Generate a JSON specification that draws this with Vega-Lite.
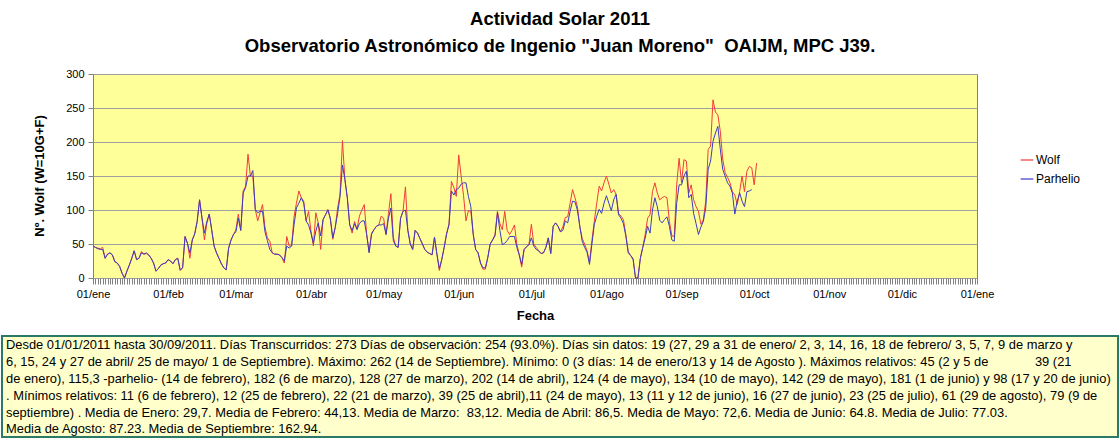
{
  "$schema": "https://vega.github.io/schema/vega-lite/v6.json",
  "background": "white",
  "padding": {"left": 1, "right": 2, "top": 9, "bottom": 1},
  "config": {
    "font": "Liberation Sans",
    "view": {"stroke": null},
    "concat": {"spacing": 12},
    "axis": {"labelFont": "Liberation Sans", "titleFont": "Liberation Sans", "labelColor": "#000000", "titleColor": "#000000"}
  },
  "title": {
    "text": "Actividad Solar 2011",
    "subtitle": "Observatorio Astronómico de Ingenio \"Juan Moreno\"\u00a0\u00a0OAIJM, MPC J39.",
    "anchor": "middle",
    "font": "Liberation Sans", "subtitleFont": "Liberation Sans",
    "fontSize": 18.5, "fontWeight": "bold", "color": "#000000",
    "subtitleFontSize": 18.5, "subtitleFontWeight": "bold", "subtitleColor": "#000000",
    "subtitlePadding": 9, "offset": 12
  },
  "vconcat": [
    {
      "spacing": 0,
      "hconcat": [
        {
          "width": 63,
          "height": 204,
          "data": {"values": [{"t": "Nº. Wolf (W=10G+F)"}]},
          "mark": {"type": "text", "angle": 270, "align": "center", "baseline": "top", "font": "Liberation Sans", "fontSize": 13, "fontWeight": "bold", "color": "#000000"},
          "encoding": {"text": {"field": "t"}}
        },
        {
          "width": 884,
          "height": 204,
          "view": {"fill": "#FFFF99", "stroke": "#808080", "strokeWidth": 1},
          "data": {"values": [
            {"fecha":"2011-01-01","Wolf":47,"Parhelio":47},{"fecha":"2011-01-02","Wolf":45,"Parhelio":45},{"fecha":"2011-01-03","Wolf":44,"Parhelio":43},{"fecha":"2011-01-04","Wolf":43,"Parhelio":42},{"fecha":"2011-01-05","Wolf":45,"Parhelio":42},{"fecha":"2011-01-06","Wolf":29,"Parhelio":29},{"fecha":"2011-01-07","Wolf":35,"Parhelio":35},{"fecha":"2011-01-08","Wolf":37,"Parhelio":37},{"fecha":"2011-01-09","Wolf":34,"Parhelio":34},{"fecha":"2011-01-10","Wolf":24,"Parhelio":24},{"fecha":"2011-01-11","Wolf":22,"Parhelio":22},{"fecha":"2011-01-12","Wolf":17,"Parhelio":17},{"fecha":"2011-01-13","Wolf":7,"Parhelio":7},{"fecha":"2011-01-14","Wolf":0,"Parhelio":0},{"fecha":"2011-01-15","Wolf":10,"Parhelio":10},{"fecha":"2011-01-16","Wolf":19,"Parhelio":19},{"fecha":"2011-01-17","Wolf":29,"Parhelio":29},{"fecha":"2011-01-18","Wolf":40,"Parhelio":40},{"fecha":"2011-01-19","Wolf":27,"Parhelio":27},{"fecha":"2011-01-20","Wolf":29,"Parhelio":29},{"fecha":"2011-01-21","Wolf":39,"Parhelio":37},{"fecha":"2011-01-22","Wolf":35,"Parhelio":35},{"fecha":"2011-01-23","Wolf":36,"Parhelio":37},{"fecha":"2011-01-24","Wolf":34,"Parhelio":34},{"fecha":"2011-01-25","Wolf":29,"Parhelio":29},{"fecha":"2011-01-26","Wolf":22,"Parhelio":22},{"fecha":"2011-01-27","Wolf":10,"Parhelio":10},{"fecha":"2011-01-28","Wolf":14,"Parhelio":14},{"fecha":"2011-01-29","Wolf":19,"Parhelio":19},{"fecha":"2011-01-30","Wolf":21,"Parhelio":21},{"fecha":"2011-01-31","Wolf":22,"Parhelio":22},
            {"fecha":"2011-02-01","Wolf":27,"Parhelio":27},{"fecha":"2011-02-02","Wolf":25,"Parhelio":25},{"fecha":"2011-02-03","Wolf":21,"Parhelio":21},{"fecha":"2011-02-04","Wolf":27,"Parhelio":27},{"fecha":"2011-02-05","Wolf":29,"Parhelio":29},{"fecha":"2011-02-06","Wolf":11,"Parhelio":12},{"fecha":"2011-02-07","Wolf":15,"Parhelio":15},{"fecha":"2011-02-08","Wolf":61,"Parhelio":61},{"fecha":"2011-02-09","Wolf":51,"Parhelio":51},{"fecha":"2011-02-10","Wolf":29,"Parhelio":37},{"fecha":"2011-02-11","Wolf":56,"Parhelio":56},{"fecha":"2011-02-12","Wolf":65,"Parhelio":65},{"fecha":"2011-02-13","Wolf":83,"Parhelio":83},{"fecha":"2011-02-14","Wolf":115,"Parhelio":115},{"fecha":"2011-02-15","Wolf":88,"Parhelio":88},{"fecha":"2011-02-16","Wolf":56,"Parhelio":66},{"fecha":"2011-02-17","Wolf":80,"Parhelio":83},{"fecha":"2011-02-18","Wolf":94,"Parhelio":94},{"fecha":"2011-02-19","Wolf":71,"Parhelio":71},{"fecha":"2011-02-20","Wolf":47,"Parhelio":47},{"fecha":"2011-02-21","Wolf":37,"Parhelio":37},{"fecha":"2011-02-22","Wolf":29,"Parhelio":29},{"fecha":"2011-02-23","Wolf":21,"Parhelio":21},{"fecha":"2011-02-24","Wolf":15,"Parhelio":15},{"fecha":"2011-02-25","Wolf":12,"Parhelio":12},{"fecha":"2011-02-26","Wolf":44,"Parhelio":44},{"fecha":"2011-02-27","Wolf":56,"Parhelio":56},{"fecha":"2011-02-28","Wolf":64,"Parhelio":64},
            {"fecha":"2011-03-01","Wolf":71,"Parhelio":68},{"fecha":"2011-03-02","Wolf":94,"Parhelio":88},{"fecha":"2011-03-03","Wolf":70,"Parhelio":70},{"fecha":"2011-03-04","Wolf":128,"Parhelio":125},{"fecha":"2011-03-05","Wolf":135,"Parhelio":133},{"fecha":"2011-03-06","Wolf":182,"Parhelio":150},{"fecha":"2011-03-07","Wolf":150,"Parhelio":150},{"fecha":"2011-03-08","Wolf":150,"Parhelio":158},{"fecha":"2011-03-09","Wolf":101,"Parhelio":101},{"fecha":"2011-03-10","Wolf":84,"Parhelio":96},{"fecha":"2011-03-11","Wolf":96,"Parhelio":98},{"fecha":"2011-03-12","Wolf":108,"Parhelio":98},{"fecha":"2011-03-13","Wolf":75,"Parhelio":68},{"fecha":"2011-03-14","Wolf":59,"Parhelio":55},{"fecha":"2011-03-15","Wolf":54,"Parhelio":42},{"fecha":"2011-03-16","Wolf":37,"Parhelio":37},{"fecha":"2011-03-17","Wolf":35,"Parhelio":35},{"fecha":"2011-03-18","Wolf":35,"Parhelio":35},{"fecha":"2011-03-19","Wolf":34,"Parhelio":34},{"fecha":"2011-03-20","Wolf":30,"Parhelio":30},{"fecha":"2011-03-21","Wolf":22,"Parhelio":25},{"fecha":"2011-03-22","Wolf":61,"Parhelio":47},{"fecha":"2011-03-23","Wolf":47,"Parhelio":44},{"fecha":"2011-03-24","Wolf":47,"Parhelio":47},{"fecha":"2011-03-25","Wolf":90,"Parhelio":78},{"fecha":"2011-03-26","Wolf":110,"Parhelio":103},{"fecha":"2011-03-27","Wolf":128,"Parhelio":110},{"fecha":"2011-03-28","Wolf":118,"Parhelio":118},{"fecha":"2011-03-29","Wolf":113,"Parhelio":110},{"fecha":"2011-03-30","Wolf":84,"Parhelio":84},{"fecha":"2011-03-31","Wolf":98,"Parhelio":78},
            {"fecha":"2011-04-01","Wolf":69,"Parhelio":66},{"fecha":"2011-04-02","Wolf":47,"Parhelio":51},{"fecha":"2011-04-03","Wolf":96,"Parhelio":69},{"fecha":"2011-04-04","Wolf":81,"Parhelio":81},{"fecha":"2011-04-05","Wolf":42,"Parhelio":62},{"fecha":"2011-04-06","Wolf":86,"Parhelio":86},{"fecha":"2011-04-07","Wolf":93,"Parhelio":93},{"fecha":"2011-04-08","Wolf":101,"Parhelio":100},{"fecha":"2011-04-09","Wolf":86,"Parhelio":88},{"fecha":"2011-04-10","Wolf":57,"Parhelio":59},{"fecha":"2011-04-11","Wolf":74,"Parhelio":74},{"fecha":"2011-04-12","Wolf":103,"Parhelio":95},{"fecha":"2011-04-13","Wolf":123,"Parhelio":120},{"fecha":"2011-04-14","Wolf":202,"Parhelio":166},{"fecha":"2011-04-15","Wolf":145,"Parhelio":145},{"fecha":"2011-04-16","Wolf":118,"Parhelio":118},{"fecha":"2011-04-17","Wolf":78,"Parhelio":78},{"fecha":"2011-04-18","Wolf":66,"Parhelio":70},{"fecha":"2011-04-19","Wolf":83,"Parhelio":80},{"fecha":"2011-04-20","Wolf":72,"Parhelio":71},{"fecha":"2011-04-21","Wolf":91,"Parhelio":80},{"fecha":"2011-04-22","Wolf":100,"Parhelio":84},{"fecha":"2011-04-23","Wolf":108,"Parhelio":84},{"fecha":"2011-04-24","Wolf":64,"Parhelio":64},{"fecha":"2011-04-25","Wolf":39,"Parhelio":37},{"fecha":"2011-04-26","Wolf":66,"Parhelio":64},{"fecha":"2011-04-27","Wolf":71,"Parhelio":71},{"fecha":"2011-04-28","Wolf":76,"Parhelio":76},{"fecha":"2011-04-29","Wolf":78,"Parhelio":78},{"fecha":"2011-04-30","Wolf":91,"Parhelio":78},
            {"fecha":"2011-05-01","Wolf":88,"Parhelio":80},{"fecha":"2011-05-02","Wolf":64,"Parhelio":64},{"fecha":"2011-05-03","Wolf":95,"Parhelio":88},{"fecha":"2011-05-04","Wolf":124,"Parhelio":103},{"fecha":"2011-05-05","Wolf":60,"Parhelio":55},{"fecha":"2011-05-06","Wolf":47,"Parhelio":47},{"fecha":"2011-05-07","Wolf":45,"Parhelio":45},{"fecha":"2011-05-08","Wolf":88,"Parhelio":88},{"fecha":"2011-05-09","Wolf":98,"Parhelio":98},{"fecha":"2011-05-10","Wolf":134,"Parhelio":100},{"fecha":"2011-05-11","Wolf":70,"Parhelio":70},{"fecha":"2011-05-12","Wolf":50,"Parhelio":50},{"fecha":"2011-05-13","Wolf":42,"Parhelio":42},{"fecha":"2011-05-14","Wolf":70,"Parhelio":70},{"fecha":"2011-05-15","Wolf":66,"Parhelio":66},{"fecha":"2011-05-16","Wolf":58,"Parhelio":58},{"fecha":"2011-05-17","Wolf":50,"Parhelio":50},{"fecha":"2011-05-18","Wolf":42,"Parhelio":42},{"fecha":"2011-05-19","Wolf":38,"Parhelio":38},{"fecha":"2011-05-20","Wolf":36,"Parhelio":36},{"fecha":"2011-05-21","Wolf":34,"Parhelio":34},{"fecha":"2011-05-22","Wolf":60,"Parhelio":60},{"fecha":"2011-05-23","Wolf":35,"Parhelio":35},{"fecha":"2011-05-24","Wolf":11,"Parhelio":14},{"fecha":"2011-05-25","Wolf":27,"Parhelio":27},{"fecha":"2011-05-26","Wolf":45,"Parhelio":45},{"fecha":"2011-05-27","Wolf":65,"Parhelio":65},{"fecha":"2011-05-28","Wolf":80,"Parhelio":78},{"fecha":"2011-05-29","Wolf":142,"Parhelio":128},{"fecha":"2011-05-30","Wolf":133,"Parhelio":122},{"fecha":"2011-05-31","Wolf":120,"Parhelio":130},
            {"fecha":"2011-06-01","Wolf":181,"Parhelio":132},{"fecha":"2011-06-02","Wolf":150,"Parhelio":138},{"fecha":"2011-06-03","Wolf":121,"Parhelio":140},{"fecha":"2011-06-04","Wolf":84,"Parhelio":140},{"fecha":"2011-06-05","Wolf":99,"Parhelio":120},{"fecha":"2011-06-06","Wolf":98,"Parhelio":105},{"fecha":"2011-06-07","Wolf":64,"Parhelio":64},{"fecha":"2011-06-08","Wolf":42,"Parhelio":42},{"fecha":"2011-06-09","Wolf":37,"Parhelio":37},{"fecha":"2011-06-10","Wolf":22,"Parhelio":22},{"fecha":"2011-06-11","Wolf":13,"Parhelio":15},{"fecha":"2011-06-12","Wolf":13,"Parhelio":15},{"fecha":"2011-06-13","Wolf":30,"Parhelio":30},{"fecha":"2011-06-14","Wolf":50,"Parhelio":50},{"fecha":"2011-06-15","Wolf":56,"Parhelio":56},{"fecha":"2011-06-16","Wolf":64,"Parhelio":62},{"fecha":"2011-06-17","Wolf":98,"Parhelio":96},{"fecha":"2011-06-18","Wolf":80,"Parhelio":70},{"fecha":"2011-06-19","Wolf":71,"Parhelio":49},{"fecha":"2011-06-20","Wolf":98,"Parhelio":51},{"fecha":"2011-06-21","Wolf":70,"Parhelio":55},{"fecha":"2011-06-22","Wolf":64,"Parhelio":61},{"fecha":"2011-06-23","Wolf":70,"Parhelio":61},{"fecha":"2011-06-24","Wolf":78,"Parhelio":61},{"fecha":"2011-06-25","Wolf":50,"Parhelio":45},{"fecha":"2011-06-26","Wolf":34,"Parhelio":34},{"fecha":"2011-06-27","Wolf":16,"Parhelio":20},{"fecha":"2011-06-28","Wolf":42,"Parhelio":42},{"fecha":"2011-06-29","Wolf":46,"Parhelio":46},{"fecha":"2011-06-30","Wolf":49,"Parhelio":49},
            {"fecha":"2011-07-01","Wolf":79,"Parhelio":59},{"fecha":"2011-07-02","Wolf":50,"Parhelio":47},{"fecha":"2011-07-03","Wolf":45,"Parhelio":42},{"fecha":"2011-07-04","Wolf":40,"Parhelio":40},{"fecha":"2011-07-05","Wolf":36,"Parhelio":36},{"fecha":"2011-07-06","Wolf":37,"Parhelio":37},{"fecha":"2011-07-07","Wolf":45,"Parhelio":45},{"fecha":"2011-07-08","Wolf":59,"Parhelio":59},{"fecha":"2011-07-09","Wolf":36,"Parhelio":36},{"fecha":"2011-07-10","Wolf":76,"Parhelio":76},{"fecha":"2011-07-11","Wolf":81,"Parhelio":81},{"fecha":"2011-07-12","Wolf":76,"Parhelio":76},{"fecha":"2011-07-13","Wolf":68,"Parhelio":68},{"fecha":"2011-07-14","Wolf":75,"Parhelio":70},{"fecha":"2011-07-15","Wolf":89,"Parhelio":84},{"fecha":"2011-07-16","Wolf":90,"Parhelio":81},{"fecha":"2011-07-17","Wolf":110,"Parhelio":98},{"fecha":"2011-07-18","Wolf":130,"Parhelio":113},{"fecha":"2011-07-19","Wolf":118,"Parhelio":112},{"fecha":"2011-07-20","Wolf":105,"Parhelio":100},{"fecha":"2011-07-21","Wolf":76,"Parhelio":76},{"fecha":"2011-07-22","Wolf":58,"Parhelio":54},{"fecha":"2011-07-23","Wolf":50,"Parhelio":45},{"fecha":"2011-07-24","Wolf":40,"Parhelio":38},{"fecha":"2011-07-25","Wolf":23,"Parhelio":20},{"fecha":"2011-07-26","Wolf":55,"Parhelio":50},{"fecha":"2011-07-27","Wolf":84,"Parhelio":79},{"fecha":"2011-07-28","Wolf":110,"Parhelio":91},{"fecha":"2011-07-29","Wolf":135,"Parhelio":101},{"fecha":"2011-07-30","Wolf":128,"Parhelio":95},{"fecha":"2011-07-31","Wolf":140,"Parhelio":110},
            {"fecha":"2011-08-01","Wolf":150,"Parhelio":121},{"fecha":"2011-08-02","Wolf":138,"Parhelio":110},{"fecha":"2011-08-03","Wolf":125,"Parhelio":99},{"fecha":"2011-08-04","Wolf":130,"Parhelio":115},{"fecha":"2011-08-05","Wolf":123,"Parhelio":123},{"fecha":"2011-08-06","Wolf":95,"Parhelio":93},{"fecha":"2011-08-07","Wolf":91,"Parhelio":88},{"fecha":"2011-08-08","Wolf":86,"Parhelio":80},{"fecha":"2011-08-09","Wolf":64,"Parhelio":62},{"fecha":"2011-08-10","Wolf":39,"Parhelio":37},{"fecha":"2011-08-11","Wolf":33,"Parhelio":33},{"fecha":"2011-08-12","Wolf":29,"Parhelio":27},{"fecha":"2011-08-13","Wolf":0,"Parhelio":0},{"fecha":"2011-08-14","Wolf":0,"Parhelio":0},{"fecha":"2011-08-15","Wolf":29,"Parhelio":29},{"fecha":"2011-08-16","Wolf":45,"Parhelio":45},{"fecha":"2011-08-17","Wolf":64,"Parhelio":59},{"fecha":"2011-08-18","Wolf":88,"Parhelio":76},{"fecha":"2011-08-19","Wolf":93,"Parhelio":66},{"fecha":"2011-08-20","Wolf":127,"Parhelio":100},{"fecha":"2011-08-21","Wolf":140,"Parhelio":118},{"fecha":"2011-08-22","Wolf":125,"Parhelio":105},{"fecha":"2011-08-23","Wolf":115,"Parhelio":85},{"fecha":"2011-08-24","Wolf":118,"Parhelio":81},{"fecha":"2011-08-25","Wolf":120,"Parhelio":86},{"fecha":"2011-08-26","Wolf":118,"Parhelio":90},{"fecha":"2011-08-27","Wolf":83,"Parhelio":76},{"fecha":"2011-08-28","Wolf":62,"Parhelio":56},{"fecha":"2011-08-29","Wolf":61,"Parhelio":54},{"fecha":"2011-08-30","Wolf":137,"Parhelio":110},{"fecha":"2011-08-31","Wolf":176,"Parhelio":137},
            {"fecha":"2011-09-01","Wolf":140,"Parhelio":137},{"fecha":"2011-09-02","Wolf":174,"Parhelio":150},{"fecha":"2011-09-03","Wolf":172,"Parhelio":157},{"fecha":"2011-09-04","Wolf":125,"Parhelio":118},{"fecha":"2011-09-05","Wolf":137,"Parhelio":123},{"fecha":"2011-09-06","Wolf":115,"Parhelio":95},{"fecha":"2011-09-07","Wolf":105,"Parhelio":80},{"fecha":"2011-09-08","Wolf":98,"Parhelio":64},{"fecha":"2011-09-09","Wolf":79,"Parhelio":75},{"fecha":"2011-09-10","Wolf":86,"Parhelio":83},{"fecha":"2011-09-11","Wolf":113,"Parhelio":103},{"fecha":"2011-09-12","Wolf":189,"Parhelio":160},{"fecha":"2011-09-13","Wolf":194,"Parhelio":172},{"fecha":"2011-09-14","Wolf":262,"Parhelio":201},{"fecha":"2011-09-15","Wolf":244,"Parhelio":213},{"fecha":"2011-09-16","Wolf":240,"Parhelio":223},{"fecha":"2011-09-17","Wolf":216,"Parhelio":190},{"fecha":"2011-09-18","Wolf":175,"Parhelio":160},{"fecha":"2011-09-19","Wolf":155,"Parhelio":150},{"fecha":"2011-09-20","Wolf":148,"Parhelio":140},{"fecha":"2011-09-21","Wolf":140,"Parhelio":135},{"fecha":"2011-09-22","Wolf":127,"Parhelio":125},{"fecha":"2011-09-23","Wolf":122,"Parhelio":94},{"fecha":"2011-09-24","Wolf":108,"Parhelio":113},{"fecha":"2011-09-25","Wolf":127,"Parhelio":125},{"fecha":"2011-09-26","Wolf":150,"Parhelio":113},{"fecha":"2011-09-27","Wolf":127,"Parhelio":105},{"fecha":"2011-09-28","Wolf":157,"Parhelio":127},{"fecha":"2011-09-29","Wolf":164,"Parhelio":128},{"fecha":"2011-09-30","Wolf":162,"Parhelio":130},
            {"fecha":"2011-10-01","Wolf":137,"Parhelio":null},{"fecha":"2011-10-02","Wolf":169,"Parhelio":null}
          ]},
          "transform": [
            {"fold": ["Wolf", "Parhelio"], "as": ["serie", "valor"]},
            {"filter": "isValid(datum.valor)"}
          ],
          "encoding": {
            "x": {
              "field": "fecha", "type": "temporal",
              "scale": {"type": "utc", "nice": false, "domain": [{"year": 2011, "month": 1, "date": 1, "utc": true}, {"year": 2012, "month": 1, "date": 1, "utc": true}]},
              "axis": {
                "title": "Fecha", "titleFontSize": 13, "titleFontWeight": "bold", "titlePadding": 10,
                "tickCount": {"interval": "day", "step": 1},
                "labelExpr": "utcdate(datum.value) == 1 ? '01/' + ['ene','feb','mar','abr','may','jun','jul','ago','sep','oct','nov','dic'][utcmonth(datum.value)] : ''",
                "labelOverlap": false, "labelFlush": false, "labelAngle": 0, "labelFontSize": 11, "labelPadding": 4,
                "tickSize": 6, "tickColor": "#808080", "domain": false, "grid": false
              }
            },
            "y": {
              "field": "valor", "type": "quantitative",
              "scale": {"domain": [0, 300], "nice": false},
              "axis": {
                "title": null,
                "values": [0, 50, 100, 150, 200, 250, 300],
                "labelFontSize": 11, "labelPadding": 4, "tickSize": 5, "tickColor": "#808080",
                "domain": false, "grid": true, "gridColor": "#A0A0A0", "gridOpacity": 1
              }
            },
            "color": {
              "field": "serie", "type": "nominal",
              "scale": {"domain": ["Wolf", "Parhelio"], "range": ["#F23B3B", "#3B3BC4"]},
              "legend": {
                "title": null, "orient": "none", "legendX": 1018, "legendY": 79, "padding": 0,
                "symbolType": "stroke", "symbolSize": 160, "symbolStrokeWidth": 1.2,
                "labelFont": "Liberation Sans", "labelFontSize": 12, "labelColor": "#000000", "labelOffset": 2, "rowPadding": 6
              }
            }
          },
          "layer": [
            {"transform": [{"filter": "datum.serie == 'Wolf'"}], "mark": {"type": "line", "strokeWidth": 1}},
            {"transform": [{"filter": "datum.serie == 'Parhelio'"}], "mark": {"type": "line", "strokeWidth": 1}}
          ]
        }
      ]
    },
    {
      "width": 1116,
      "height": 101,
      "view": {"fill": "#FFFFCC", "stroke": "#2B7A68", "strokeWidth": 2},
      "data": {"values": [
        {"n": 1, "t": "Desde 01/01/2011 hasta 30/09/2011. Días Transcurridos: 273 Días de observación: 254 (93.0%). Días sin datos: 19 (27, 29 a 31 de enero/ 2, 3, 14, 16, 18 de febrero/ 3, 5, 7, 9 de marzo y"},
        {"n": 2, "t": "6, 15, 24 y 27 de abril/ 25 de mayo/ 1 de Septiembre). Máximo: 262 (14 de Septiembre). Mínimo: 0 (3 días: 14 de enero/13 y 14 de Agosto ). Máximos relativos: 45 (2 y 5 de\u00a0\u00a0\u00a0\u00a0\u00a0\u00a0\u00a0\u00a0\u00a0\u00a0\u00a0\u00a0 39 (21"},
        {"n": 3, "t": "de enero), 115,3 -parhelio- (14 de febrero), 182 (6 de marzo), 128 (27 de marzo), 202 (14 de abril), 124 (4 de mayo), 134 (10 de mayo), 142 (29 de mayo), 181 (1 de junio) y 98 (17 y 20 de junio)"},
        {"n": 4, "t": ". Mínimos relativos: 11 (6 de febrero), 12 (25 de febrero), 22 (21 de marzo), 39 (25 de abril),11 (24 de mayo), 13 (11 y 12 de junio), 16 (27 de junio), 23 (25 de julio), 61 (29 de agosto), 79 (9 de"},
        {"n": 5, "t": "septiembre) . Media de Enero: 29,7. Media de Febrero: 44,13. Media de Marzo:\u00a0 83,12. Media de Abril: 86,5. Media de Mayo: 72,6. Media de Junio: 64.8. Media de Julio: 77.03."},
        {"n": 6, "t": "Media de Agosto: 87.23. Media de Septiembre: 162.94."}
      ]},
      "mark": {"type": "text", "align": "left", "baseline": "middle", "font": "Liberation Sans", "fontSize": 12.9, "color": "#000000"},
      "encoding": {
        "y": {"field": "n", "type": "ordinal", "axis": null, "scale": {"padding": 0.5, "align": 0.55}},
        "x": {"value": 4},
        "text": {"field": "t"}
      }
    }
  ]
}
